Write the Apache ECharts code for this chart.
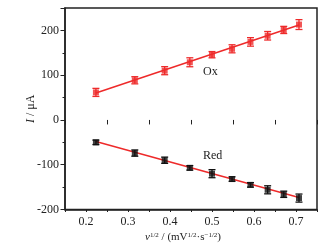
<!DOCTYPE html>
<html><head><meta charset="utf-8">
<script src="https://cdn.jsdelivr.net/npm/echarts@6/dist/echarts.min.js"></script>
<style>html,body{margin:0;padding:0;background:#fff}#c{width:329px;height:248px}</style>
</head><body><div id="c"></div>
<script>
const xVals = [0.2236, 0.3162, 0.3873, 0.4472, 0.5, 0.5477, 0.5916, 0.6325, 0.6708, 0.7071];
const oxVals = [61.5, 88.6, 110, 128.8, 145.7, 158.9, 174.3, 188, 201, 213];
const oxErr = [9, 8, 9, 10, 7, 9, 9.5, 9.5, 8, 11];
const redVals = [-50, -74, -90, -107, -120, -132, -145, -156, -166, -174.5];
const redErr = [5, 7, 7, 5, 9, 5, 5, 9, 7, 9];
const oxFit = [[0.2236, 60], [0.7071, 212]];
const redFit = [[0.2236, -48], [0.7071, -173]];
const xTicks = [0.2, 0.3, 0.4, 0.5, 0.6, 0.7];
const yTicks = [-200, -100, 0, 100, 200];

const RED = '#ee2a2a', BLK = '#111';
const font = 'Liberation Serif, Times New Roman, serif';

function errSeries(vals, errs, color) {
  return {
    type: 'custom', z: 3,
    data: xVals.map((x, i) => [x, vals[i] - errs[i], vals[i] + errs[i]]),
    renderItem: function (params, api) {
      const lo = api.coord([api.value(0), api.value(1)]);
      const hi = api.coord([api.value(0), api.value(2)]);
      const w = 3.5;
      const st = { stroke: color, lineWidth: 1.3 };
      return { type: 'group', children: [
        { type: 'line', shape: { x1: lo[0], y1: lo[1], x2: hi[0], y2: hi[1] }, style: st },
        { type: 'line', shape: { x1: lo[0] - w, y1: lo[1], x2: lo[0] + w, y2: lo[1] }, style: st },
        { type: 'line', shape: { x1: hi[0] - w, y1: hi[1], x2: hi[0] + w, y2: hi[1] }, style: st }
      ]};
    }
  };
}

const axLine = { show: true, onZero: false, lineStyle: { color: '#222', width: 1.5 } };
const chart = echarts.init(document.getElementById('c'));
chart.setOption({
  animation: false,
  backgroundColor: '#fff',
  grid: { left: 65, right: 12, top: 8, bottom: 36, show: true, borderColor: '#222', borderWidth: 1.5, backgroundColor: 'transparent' },
  xAxis: [{
    type: 'value', min: 0.15, max: 0.75, interval: 0.05,
    axisLine: axLine,
    axisTick: { show: true, length: 2.5, lineStyle: { color: '#222' } },
    splitLine: { show: false },
    axisLabel: {
      color: '#222', fontFamily: font, fontSize: 12, margin: 6,
      formatter: v => { const r = Math.round(v * 100) / 100; return xTicks.some(t => Math.abs(t - r) < 1e-6) ? r.toFixed(1) : ''; }
    },
    name: '{i|ν}{s|1/2} / (mV{s|1/2}·s{s|−1/2})',
    nameLocation: 'middle', nameGap: 22, nameMoveOverlap: false,
    nameTextStyle: { color: '#222', fontFamily: font, fontSize: 11, padding: [0, 16, 0, 0],
      rich: { i: { fontStyle: 'italic', fontFamily: font, fontSize: 11, color: '#222' },
              s: { fontSize: 7, verticalAlign: 'top', fontFamily: font, color: '#222', padding: [0, 0, 5, 0] } } }
  }, {
    type: 'value', min: 0.15, max: 0.75, interval: 0.1, position: 'bottom',
    axisLine: { show: false }, axisLabel: { show: false }, splitLine: { show: false },
    axisTick: { show: true, length: 4.5, lineStyle: { color: '#222' } }
  }],
  yAxis: [{
    type: 'value', min: -200, max: 250, interval: 50,
    axisLine: axLine,
    axisTick: { show: true, length: 2.5, lineStyle: { color: '#222' } },
    splitLine: { show: false },
    axisLabel: {
      color: '#222', fontFamily: font, fontSize: 12, margin: 6,
      formatter: v => yTicks.includes(v) ? String(v) : ''
    },
    name: '{i|I} / μA', nameLocation: 'middle', nameGap: 28, nameMoveOverlap: false,
    nameTextStyle: { color: '#222', fontFamily: font, fontSize: 12,
      rich: { i: { fontStyle: 'italic', fontFamily: font, fontSize: 12, color: '#222' } } }
  }, {
    type: 'value', min: -200, max: 250, interval: 100, position: 'left',
    axisLine: { show: false }, axisLabel: { show: false }, splitLine: { show: false },
    axisTick: { show: true, length: 4.5, lineStyle: { color: '#222' } }
  }],
  series: [
    { type: 'line', data: oxFit, symbol: 'none', lineStyle: { color: RED, width: 1.5 }, z: 2 },
    { type: 'line', data: redFit, symbol: 'none', lineStyle: { color: RED, width: 1.5 }, z: 2 },
    errSeries(oxVals, oxErr, RED),
    errSeries(redVals, redErr, BLK),
    { type: 'scatter', data: xVals.map((x, i) => [x, oxVals[i]]), symbol: 'rect', symbolSize: 6, itemStyle: { color: RED }, z: 4 },
    { type: 'scatter', data: xVals.map((x, i) => [x, redVals[i]]), symbol: 'rect', symbolSize: 6, itemStyle: { color: BLK }, z: 4 }
  ],
  graphic: [
    { type: 'text', left: 203, top: 66, style: { text: 'Ox', fill: '#222', font: '12px ' + font } },
    { type: 'text', left: 203, top: 150, style: { text: 'Red', fill: '#222', font: '12px ' + font } }
  ]
});
</script></body></html>
